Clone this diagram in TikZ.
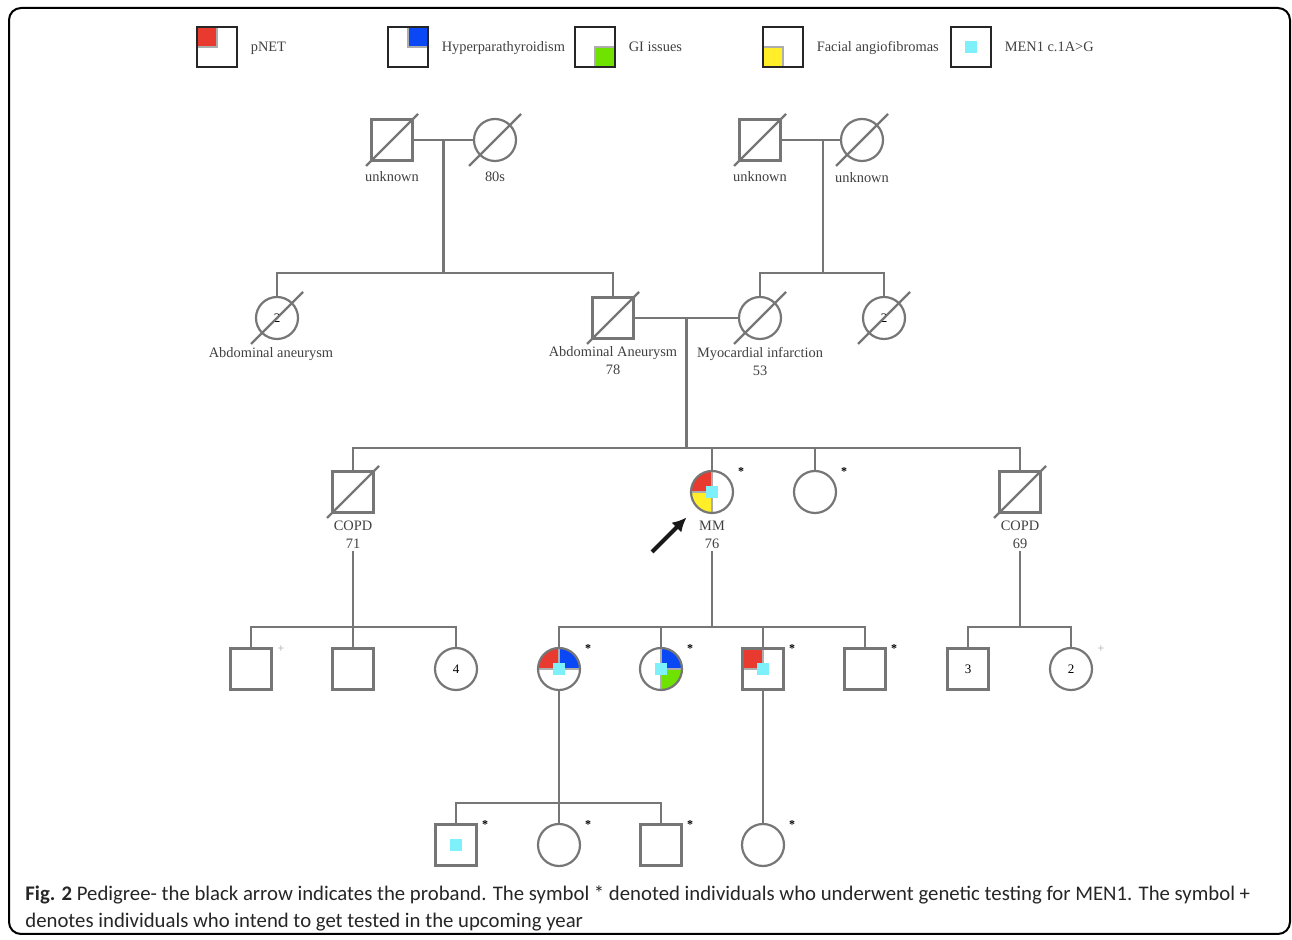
\documentclass[tikz,border=0pt]{standalone}
\usepackage{fontspec}
\setmainfont{Liberation Serif}
\newfontfamily\capfont{Carlito}
\usetikzlibrary{positioning,arrows.meta,calc}
\definecolor{pedgray}{RGB}{118,118,118}
\definecolor{pnet}{RGB}{232,58,46}
\definecolor{hpt}{RGB}{10,72,245}
\definecolor{gi}{RGB}{112,226,0}
\definecolor{facial}{RGB}{255,238,40}
\definecolor{men1}{RGB}{125,240,250}
\tikzset{
    >=Stealth,
    pedline/.style={draw=pedgray, line width=1.1pt},
    male/.style={rectangle, pedline, minimum size=20.5pt, inner sep=0pt, font=\fontsize{6.5}{8}\selectfont},
    female/.style={circle, pedline, minimum size=21pt, inner sep=0pt, font=\fontsize{6.5}{8}\selectfont},
    keybox/.style={rectangle, draw=black!85, line width=1.4pt, minimum size=20pt, inner sep=0pt},
    lab/.style={font=\fontsize{7.2}{9.2}\selectfont, text=black!75, align=center, inner sep=1pt, label distance=2.3pt},
    keylab/.style={font=\fontsize{7.2}{9}\selectfont, text=black!75, inner sep=0pt, label distance=6pt,
        text height=5pt, text depth=1.6pt, yshift=-0.5pt},
    tag/.style={font=\bfseries\fontsize{6}{6}\selectfont, inner sep=0pt},
    plus/.style={font=\fontsize{6}{6}\selectfont, text=black!35, inner sep=0pt},
    proband/.style={-{Latex[length=7pt,width=7pt]}, line width=2pt, black!90},
    frame/.style={draw=black, line width=1pt, rounded corners=6pt},
    captext/.style={font=\capfont\fontsize{10.38}{13.6}\selectfont, align=left, inner sep=0pt, text=black!85}
}
\newcommand{\qfill}[2]{\path[fill=#2, draw=pedgray!60, line width=0.6pt]
    (path picture bounding box.center) rectangle (path picture bounding box.#1);}
\newcommand{\menmark}{\fill[men1] ($(path picture bounding box.center)+(-3pt,-3pt)$) rectangle ++(6pt,6pt);}
\newcommand{\deceased}[1]{\draw[pedline] ($(#1)+(-26,26)$) -- ($(#1)+(26,-26)$);}

\begin{document}
\begin{tikzpicture}[x=0.5pt, y=-0.5pt]
    \useasboundingbox (0,0) rectangle (1292,940);
    \draw[frame] (9,8) rectangle (1290,934);

    % key
    \node[keybox, path picture={\qfill{north west}{pnet}}, label={[keylab]right:pNET}] (kpnet) at (217,47) {};
    \node[keybox, path picture={\qfill{north east}{hpt}}, label={[keylab]right:Hyperparathyroidism}] (khpt) at (408,47) {};
    \node[keybox, path picture={\qfill{south east}{gi}}, label={[keylab]right:GI issues}] (kgi) at (595,47) {};
    \node[keybox, path picture={\qfill{south west}{facial}}, label={[keylab]right:Facial angiofibromas}] (kfac) at (783,47) {};
    \node[keybox, path picture={\menmark}, label={[keylab]right:MEN1 c.1A>G}] (kmen) at (971,47) {};

    % generation I
    \node[male, label={[lab,yshift=-1.5pt]below:unknown}] (pgf) at (392,140) {};
    \node[female, label={[lab,yshift=-1.5pt]below:80s}] (pgm) at (495,140) {};
    \node[male, label={[lab,yshift=-1.5pt]below:unknown}] (mgf) at (760,140) {};
    \node[female, label={[lab,yshift=-1.5pt]below:unknown}] (mgm) at (862,140) {};
    \deceased{pgf} \deceased{pgm} \deceased{mgf} \deceased{mgm}
    \draw[pedline] (pgf) -- (pgm);
    \draw[pedline] (mgf) -- (mgm);
    \coordinate (m1) at ($(pgf)!0.5!(pgm)$);
    \coordinate (m2) at ($(mgf)!0.62!(mgm)$);
    \coordinate (s1) at ($(m1)+(0,133)$);
    \coordinate (s2) at ($(m2)+(0,133)$);

    % generation II
    \node[female, label={[lab,xshift=-3pt]below:Abdominal aneurysm}] (aunt1) at (277,318) {2};
    \node[male, label={[lab]below:Abdominal Aneurysm\\78}] (father) at (613,318) {};
    \node[female, label={[lab]below:Myocardial infarction\\53}] (mother) at (760,318) {};
    \node[female] (aunt2) at (884,318) {2};
    \deceased{aunt1} \deceased{father} \deceased{mother} \deceased{aunt2}
    \draw[pedline] (m1) -- (s1);
    \draw[pedline] (aunt1.north) -- (aunt1 |- s1) -- (father |- s1) -- (father.north);
    \draw[pedline] (m2) -- (s2);
    \draw[pedline] (mother.north) -- (mother |- s2) -- (aunt2 |- s2) -- (aunt2.north);
    \draw[pedline] (father) -- (mother);
    \coordinate (m3) at ($(father)!0.5!(mother)$);
    \coordinate (s3) at ($(m3)+(0,130)$);

    % generation III
    \node[male, label={[lab,name=unc1lab]below:COPD\\71}] (unc1) at (353,492) {};
    \node[female, path picture={\qfill{north west}{pnet}\qfill{south west}{facial}\menmark},
          label={[lab,name=mmlab]below:MM\\76}] (mm) at (712,492) {};
    \node[female] (aunt3) at (815,492) {};
    \node[male, label={[lab,name=unc2lab]below:COPD\\69}] (unc2) at (1020,492) {};
    \deceased{unc1} \deceased{unc2}
    \draw[pedline] (m3) -- (s3);
    \draw[pedline] (unc1.north) -- (unc1 |- s3) -- (unc2 |- s3) -- (unc2.north);
    \draw[pedline] (mm.north) -- (mm |- s3);
    \draw[pedline] (aunt3.north) -- (aunt3 |- s3);
    \coordinate (arrtail) at (652,552);
    \draw[proband, shorten >=7pt] (arrtail) -- (mm);
    \coordinate (s4a) at ($(unc1)+(0,135)$);
    \coordinate (s4b) at ($(mm)+(0,135)$);
    \coordinate (s4c) at ($(unc2)+(0,135)$);

    % generation IV
    \node[male] (c1) at (251,669) {};
    \node[male] (c2) at (353,669) {};
    \node[female] (c3) at (456,669) {4};
    \node[female, path picture={\qfill{north west}{pnet}\qfill{north east}{hpt}\menmark}] (d1) at (559,669) {};
    \node[female, path picture={\qfill{north east}{hpt}\qfill{south east}{gi}\menmark}] (d2) at (661,669) {};
    \node[male, path picture={\qfill{north west}{pnet}\menmark}] (d3) at (763,669) {};
    \node[male] (d4) at (865,669) {};
    \node[male] (e1) at (968,669) {3};
    \node[female] (e2) at (1071,669) {2};
    \draw[pedline] (unc1lab.south) -- (s4a);
    \draw[pedline] (c1.north) -- (c1 |- s4a) -- (c3 |- s4a) -- (c3.north);
    \draw[pedline] (c2.north) -- (s4a);
    \draw[pedline] (mmlab.south) -- (s4b);
    \draw[pedline] (d1.north) -- (d1 |- s4b) -- (d4 |- s4b) -- (d4.north);
    \draw[pedline] (d2.north) -- (d2 |- s4b);
    \draw[pedline] (d3.north) -- (d3 |- s4b);
    \draw[pedline] (unc2lab.south) -- (s4c);
    \draw[pedline] (e1.north) -- (e1 |- s4c) -- (e2 |- s4c) -- (e2.north);
    \coordinate (s5) at ($(d1)+(0,134)$);

    % generation V
    \node[male, path picture={\menmark}] (f1) at (456,845) {};
    \node[female] (f2) at (559,845) {};
    \node[male] (f3) at (661,845) {};
    \node[female] (g1) at (763,845) {};
    \draw[pedline] (d1.south) -- (s5);
    \draw[pedline] (f1.north) -- (f1 |- s5) -- (f3 |- s5) -- (f3.north);
    \draw[pedline] (f2.north) -- (s5);
    \draw[pedline] (d3.south) -- (g1.north);

    % tested (*) and to be tested (+)
    \foreach \p in {mm,aunt3,d1,d2,d3,d4,f1,f2,f3,g1}
        \node[tag] (t\p) at ($(\p)+(29,-20)$) {*};
    \foreach \p in {c1,e2}
        \node[plus] (p\p) at ($(\p)+(30,-20)$) {+};

    \node[captext, anchor=north west] (caption) at (25,885)
        {\textbf{Fig. 2} Pedigree- the black arrow indicates the proband. The symbol * denoted individuals who underwent genetic testing for MEN1. The symbol +\\
         denotes individuals who intend to get tested in the upcoming year};
\end{tikzpicture}
\end{document}
